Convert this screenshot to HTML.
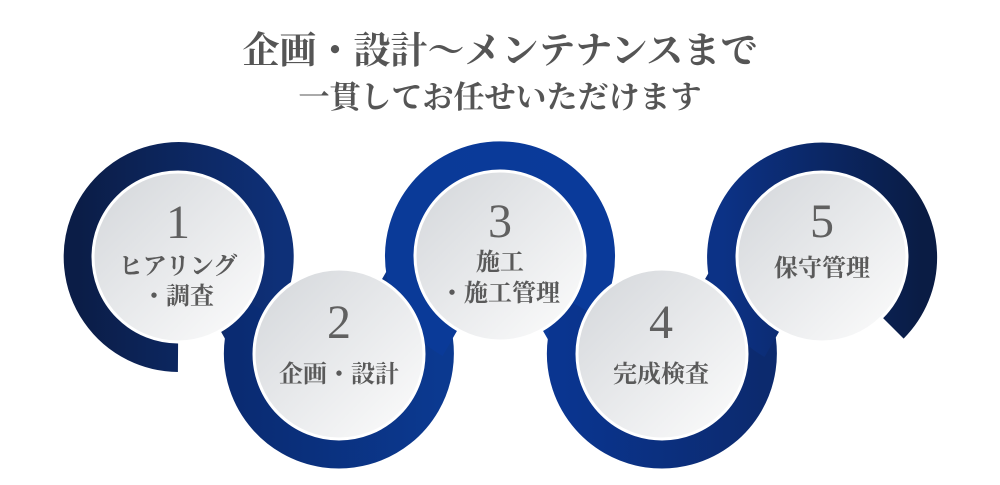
<!DOCTYPE html>
<html><head><meta charset="utf-8"><style>
html,body{margin:0;padding:0;background:#fff;}
svg{display:block}
.t{font-family:"Liberation Serif","Noto Serif CJK JP","Noto Serif CJK SC",serif;font-weight:bold;fill:#555;text-anchor:middle}
.n{font-family:"Liberation Serif",serif;fill:#606060;text-anchor:middle;font-size:48px}
.l{font-family:"Liberation Serif","Noto Serif CJK JP","Noto Serif CJK SC",serif;font-weight:bold;fill:#5a5a5a;text-anchor:middle;font-size:24px}
</style></head><body>
<svg width="1000" height="485" viewBox="0 0 1000 485" xmlns="http://www.w3.org/2000/svg">
<defs>
<linearGradient id="g1" x1="0" x2="1" y1="0" y2="0"><stop offset="0" stop-color="#0b1d47"/><stop offset="1" stop-color="#0e3078"/></linearGradient>
<linearGradient id="g2" x1="0" x2="1" y1="0" y2="0"><stop offset="0" stop-color="#0a2b72"/><stop offset="1" stop-color="#0b3990"/></linearGradient>
<linearGradient id="g3" x1="0" x2="1" y1="0" y2="0"><stop offset="0" stop-color="#0a3a98"/><stop offset="1" stop-color="#0a3a9a"/></linearGradient>
<linearGradient id="g4" x1="0" x2="1" y1="0" y2="0"><stop offset="0" stop-color="#0a3590"/><stop offset="1" stop-color="#0c2a6e"/></linearGradient>
<linearGradient id="g5" x1="0" x2="1" y1="0" y2="0"><stop offset="0" stop-color="#0c3286"/><stop offset="1" stop-color="#0a1c44"/></linearGradient>
<linearGradient id="d" x1="0" y1="0" x2="1" y2="1"><stop offset="0" stop-color="#d3d6da"/><stop offset="1" stop-color="#fdfdfd"/></linearGradient>
</defs>
<text class="t" x="500" y="63" font-size="37">企画・設計〜メンテナンスまで</text>
<text class="t" x="500" y="108" font-size="31">一貫してお任せいただけます</text>

<path d="M178 357 A100 100 0 1 1 228 344" fill="none" stroke="url(#g1)" stroke-width="30"/>
<path d="M252 304 A100 100 0 1 0 389 267" fill="none" stroke="url(#g2)" stroke-width="30"/>
<path d="M450 343 A100 100 0 1 1 550 343" fill="none" stroke="url(#g3)" stroke-width="30"/>
<path d="M575 304 A100 100 0 1 0 712 267" fill="none" stroke="url(#g4)" stroke-width="30"/>
<path d="M772 344 A100 100 0 1 1 893 328" fill="none" stroke="url(#g5)" stroke-width="30"/>

<circle cx="178" cy="257" r="85" fill="url(#d)" stroke="#fff" stroke-width="3"/>
<circle cx="339" cy="354" r="85" fill="url(#d)" stroke="#fff" stroke-width="3"/>
<circle cx="500" cy="256" r="85" fill="url(#d)" stroke="#fff" stroke-width="3"/>
<circle cx="662" cy="354" r="85" fill="url(#d)" stroke="#fff" stroke-width="3"/>
<circle cx="822" cy="257" r="85" fill="url(#d)" stroke="#fff" stroke-width="3"/>

<text class="n" x="178" y="238">1</text>
<text class="l" x="178" y="274">ヒアリング</text>
<text class="l" x="178" y="304">・調査</text>
<text class="n" x="339" y="338">2</text>
<text class="l" x="339" y="382">企画・設計</text>
<text class="n" x="500" y="237">3</text>
<text class="l" x="500" y="270">施工</text>
<text class="l" x="500" y="301">・施工管理</text>
<text class="n" x="661" y="338">4</text>
<text class="l" x="661" y="382">完成検査</text>
<text class="n" x="822" y="237">5</text>
<text class="l" x="822" y="276">保守管理</text>
</svg>
</body></html>
